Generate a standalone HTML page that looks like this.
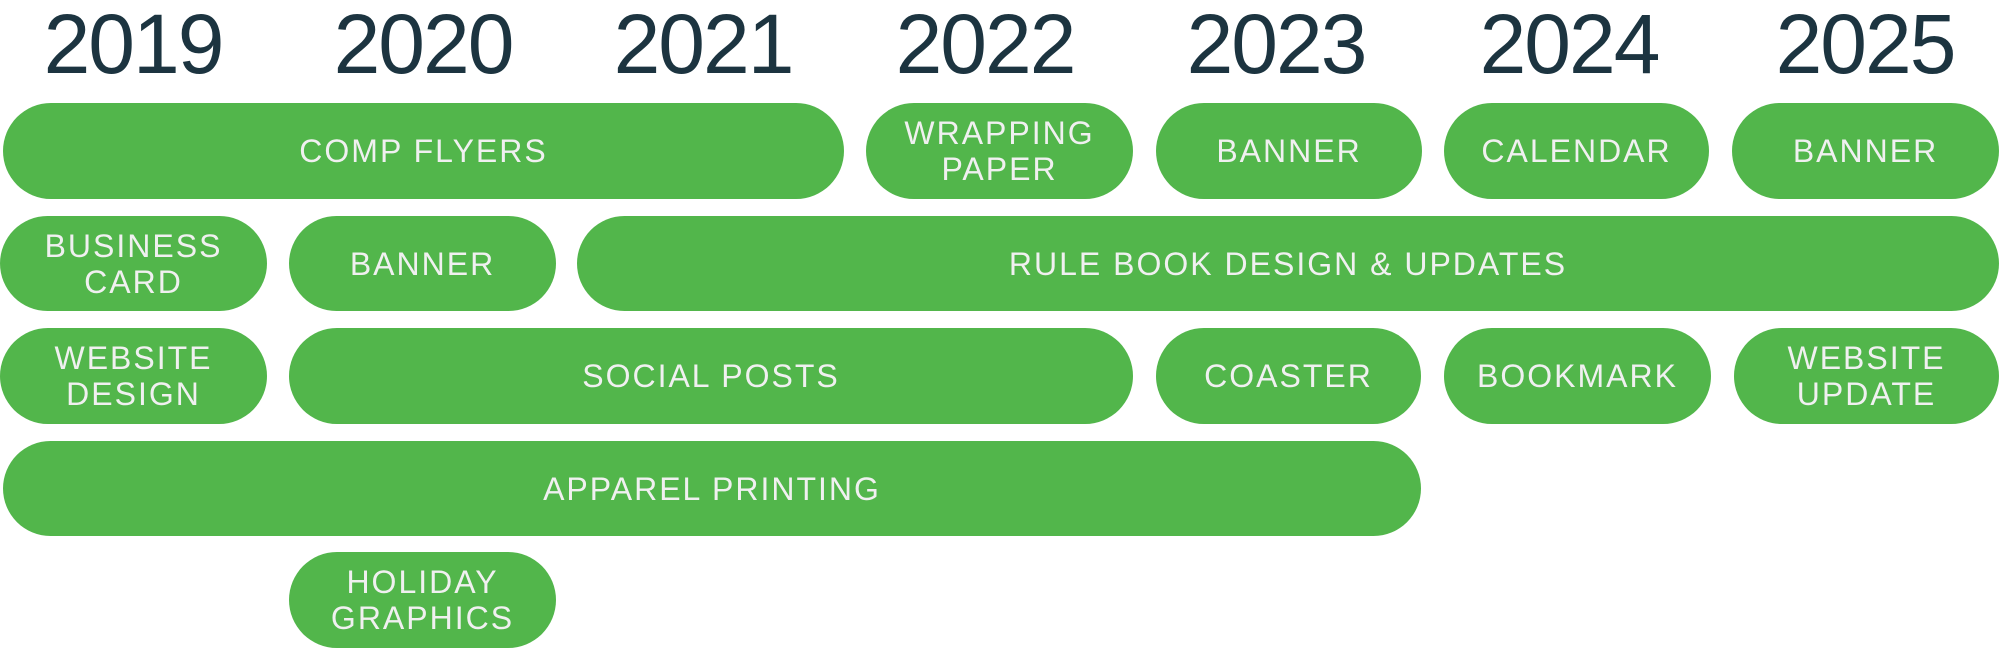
<!DOCTYPE html>
<html><head><meta charset="utf-8"><style>
html,body{margin:0;padding:0;background:#fff;}
body{width:2000px;height:652px;position:relative;overflow:hidden;font-family:"Liberation Sans",sans-serif;}
.y{position:absolute;top:0;width:260px;margin-left:-130px;text-align:center;font-size:84px;line-height:84px;color:#1c3440;letter-spacing:-2px;padding-top:2px;}
.p{position:absolute;background:#52b64b;border-radius:48px/48px;display:flex;align-items:center;justify-content:center;text-align:center;color:#f0f0f0;font-size:32px;line-height:36px;letter-spacing:2px;}
</style></head><body>
<div class="y" style="left:133px">2019</div>
<div class="y" style="left:423px">2020</div>
<div class="y" style="left:703px">2021</div>
<div class="y" style="left:985px">2022</div>
<div class="y" style="left:1276px">2023</div>
<div class="y" style="left:1569px">2024</div>
<div class="y" style="left:1865px">2025</div>

<div class="p" style="left:3px;top:103px;width:841px;height:96px">COMP FLYERS</div>
<div class="p" style="left:866px;top:103px;width:267px;height:96px">WRAPPING<br>PAPER</div>
<div class="p" style="left:1156px;top:103px;width:266px;height:96px">BANNER</div>
<div class="p" style="left:1444px;top:103px;width:265px;height:96px">CALENDAR</div>
<div class="p" style="left:1732px;top:103px;width:267px;height:96px">BANNER</div>

<div class="p" style="left:0px;top:216px;width:267px;height:95px">BUSINESS<br>CARD</div>
<div class="p" style="left:289px;top:216px;width:267px;height:95px">BANNER</div>
<div class="p" style="left:577px;top:216px;width:1422px;height:95px">RULE BOOK DESIGN &amp; UPDATES</div>

<div class="p" style="left:0px;top:328px;width:267px;height:96px">WEBSITE<br>DESIGN</div>
<div class="p" style="left:289px;top:328px;width:844px;height:96px">SOCIAL POSTS</div>
<div class="p" style="left:1156px;top:328px;width:265px;height:96px">COASTER</div>
<div class="p" style="left:1444px;top:328px;width:267px;height:96px">BOOKMARK</div>
<div class="p" style="left:1734px;top:328px;width:265px;height:96px">WEBSITE<br>UPDATE</div>

<div class="p" style="left:3px;top:441px;width:1418px;height:95px">APPAREL PRINTING</div>

<div class="p" style="left:289px;top:552px;width:267px;height:96px">HOLIDAY<br>GRAPHICS</div>
</body></html>
